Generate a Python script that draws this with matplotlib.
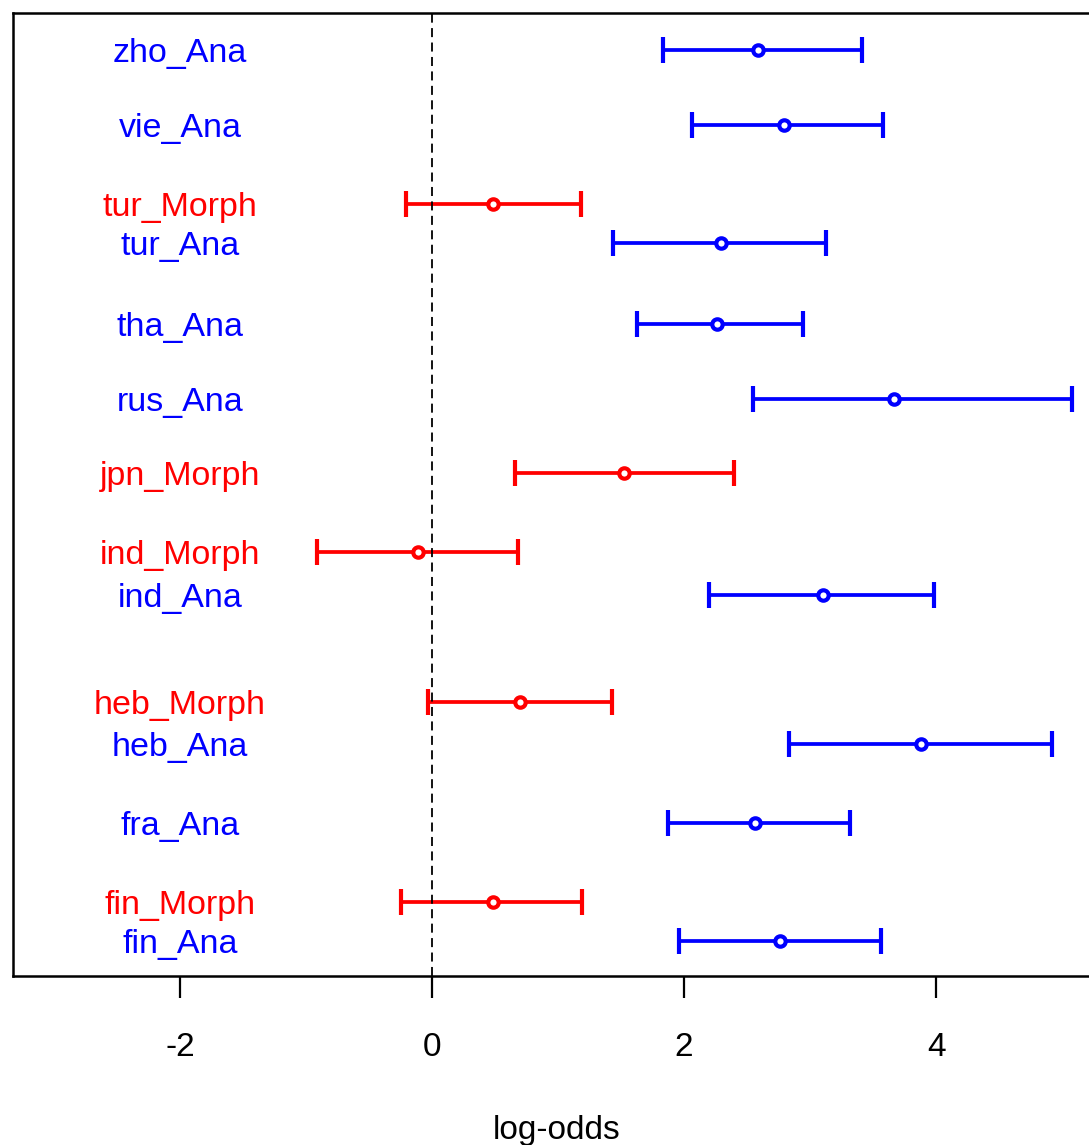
import matplotlib
matplotlib.use("Agg")
import matplotlib.pyplot as plt

plt.rcParams['font.family'] = ['Liberation Sans', 'DejaVu Sans']

# rows, bottom to top
labels = ["fin_Ana", "fin_Morph", "fra_Ana", "heb_Ana", "heb_Morph",
          "ind_Ana", "ind_Morph", "jpn_Morph", "rus_Ana", "tha_Ana",
          "tur_Ana", "tur_Morph", "vie_Ana", "zho_Ana"]
ypos = [0, 0.5, 1.5, 2.5, 3.03, 4.38, 4.93, 5.93, 6.87, 7.82,
        8.84, 9.33, 10.33, 11.28]
est = [2.76, 0.48, 2.56, 3.88, 0.70, 3.10, -0.11, 1.52, 3.67, 2.26,
       2.29, 0.48, 2.79, 2.59]
lower = [1.96, -0.25, 1.87, 2.83, -0.03, 2.20, -0.91, 0.66, 2.55, 1.63,
         1.44, -0.21, 2.06, 1.83]
upper = [3.56, 1.19, 3.32, 4.92, 1.43, 3.98, 0.68, 2.40, 5.08, 2.94,
         3.13, 1.18, 3.58, 3.41]

fig = plt.figure(figsize=(10.89, 11.45), dpi=100)
ax = fig.add_axes([0.012, 0.1476, 0.998, 0.8410])

for lab, y, e, lo, hi in zip(labels, ypos, est, lower, upper):
    col = "red" if lab.endswith("Morph") else "blue"
    ax.errorbar(e, y, xerr=[[e - lo], [hi - e]], fmt="o", color=col,
                ecolor=col, elinewidth=2.7, capsize=9.5, capthick=2.7,
                markersize=7.5, markerfacecolor="white", markeredgewidth=3)
    ax.text(-2.0, y, lab, color=col, ha="center", va="center_baseline",
            fontsize=24.5)

ax.axvline(0, color="black", lw=1.3, dashes=(5, 3))

ax.set_xlim(-3.325, 5.30)
ax.set_ylim(-0.44, 11.75)
ax.set_yticks([])
ax.set_xticks([-2, 0, 2, 4])
ax.set_xticklabels(["-2", "0", "2", "4"])
ax.tick_params(axis="x", length=16, width=1.6, labelsize=24, pad=24)
for s in ax.spines.values():
    s.set_linewidth(1.8)
ax.set_xlabel("log-odds", fontsize=24, labelpad=38)

fig.savefig("out.png", dpi=100)
